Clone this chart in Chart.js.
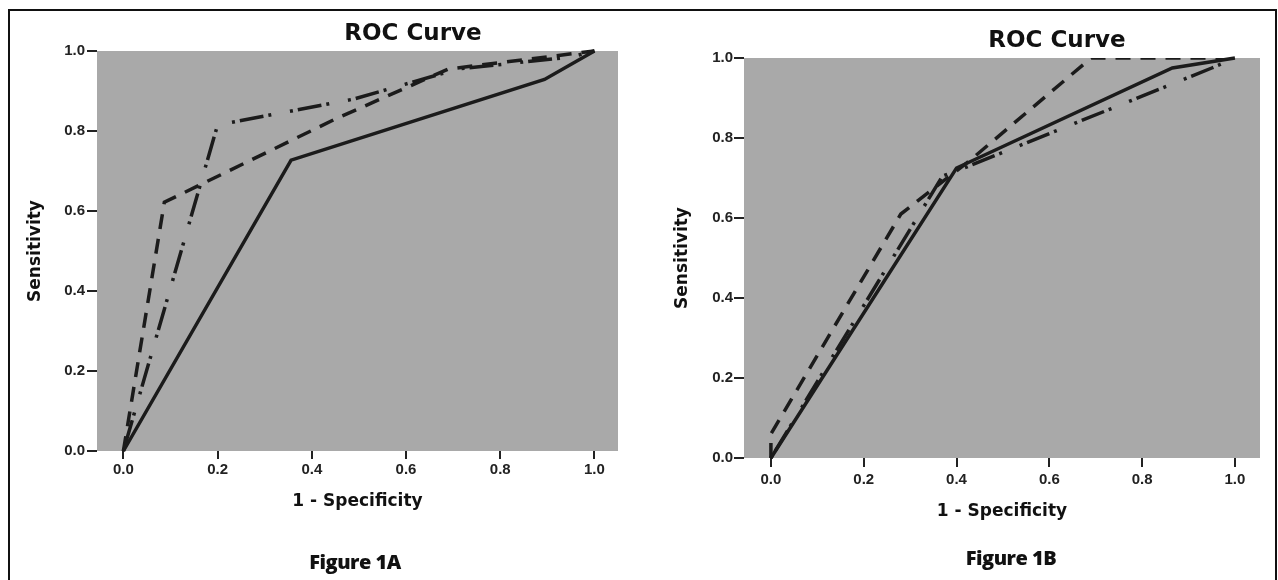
<!DOCTYPE html>
<html>
<head>
<meta charset="utf-8">
<script src="https://cdn.jsdelivr.net/npm/chart.js@4"></script>
<style>
  html, body { margin: 0; padding: 0; background: #fff; }
  body { width: 1278px; height: 580px; overflow: hidden; position: relative; font-family: "DejaVu Sans", sans-serif; }
  #frame { position: absolute; left: 8px; top: 9px; width: 1265px; height: 620px; border: 2px solid #111; border-bottom: none; }
  canvas { position: absolute; top: 0; }
  .t { position: absolute; transform: translate(-50%, -50%); white-space: nowrap; color: #111; font-weight: bold; }
  .roc { font-size: 23px; }
  .fig { font-family: "Open Sans", sans-serif; font-weight: 800; font-size: 20px; letter-spacing: -0.5px; }
</style>
</head>
<body>
<div id="frame"></div>
<canvas id="chartA" width="640" height="580" style="left:0"></canvas>
<canvas id="chartB" width="638" height="580" style="left:640px"></canvas>
<div class="t roc" style="left:413px; top:32px">ROC Curve</div>
<div class="t roc" style="left:1057px; top:39px">ROC Curve</div>
<div class="t fig" style="left:355px; top:561px">Figure 1A</div>
<div class="t fig" style="left:1011px; top:557px">Figure 1B</div>
<script>
const tickValues = [0, 0.2, 0.4, 0.6, 0.8, 1.0];

// Figure 1A
const solidAx = [0, 0.356, 0.894, 1];
const solidAy = [0, 0.727, 0.929, 1];
const dashAx = [0, 0.087, 0.45, 0.69, 1];
const dashAy = [0, 0.622, 0.83, 0.955, 1];
const dotDashAx = [0, 0.2, 0.49, 0.71, 0.95, 1];
const dotDashAy = [0, 0.815, 0.88, 0.955, 0.985, 1];

// Figure 1B
const solidBx = [0, 0.4, 0.865, 1];
const solidBy = [0, 0.725, 0.975, 1];
const dashBx = [0, 0, 0.28, 0.43, 0.69, 1];
const dashBy = [0, 0.06, 0.61, 0.745, 1, 1];
const dotDashBx = [0, 0.37, 0.41, 0.95, 1];
const dotDashBy = [0, 0.705, 0.722, 0.975, 1];

const ink = '#1b1b1b';
const DASH = [15, 10];
const DOTDASH = [3, 5, 24, 5, 3, 19];

const plotBg = {
  id: 'plotBg',
  beforeDraw(chart) {
    const { ctx, chartArea: a } = chart;
    ctx.save();
    ctx.fillStyle = '#a9a9a9';
    ctx.fillRect(a.left, a.top, a.right - a.left, a.bottom - a.top);
    ctx.restore();
  }
};

function pts(xs, ys) {
  return xs.map((x, i) => ({ x: x, y: ys[i] }));
}

function curve(data, dash, clip) {
  return {
    data: data,
    borderColor: ink,
    borderWidth: 3.5,
    borderDash: dash,
    pointRadius: 0,
    tension: 0,
    fill: false,
    clip: clip
  };
}

const tickFont = { family: '"Liberation Sans", Arial, sans-serif', size: 15, weight: 'bold' };

function makeChart(id, sets, o) {
  return new Chart(document.getElementById(id), {
    type: 'line',
    data: { datasets: sets },
    plugins: [plotBg],
    options: {
      responsive: false,
      animation: false,
      layout: { padding: { top: o.top, right: o.right, bottom: o.bottom, left: 0 } },
      plugins: { legend: { display: false }, tooltip: { enabled: false } },
      scales: {
        x: {
          type: 'linear', min: o.xmin, max: o.xmax,
          afterBuildTicks: s => { s.ticks = tickValues.map(v => ({ value: v })); },
          afterFit: s => { s.height = o.xh; },
          ticks: { callback: v => v.toFixed(1), padding: o.xpad, color: '#222', maxRotation: 0, autoSkip: false,
                   font: tickFont },
          grid: { drawOnChartArea: false, tickLength: o.xtl, color: '#222', lineWidth: 2 },
          border: { display: false },
          title: { display: true, text: '1 - Specificity', color: '#111', padding: 0,
                   font: { size: 17, weight: 'bold', lineHeight: 1.2 } }
        },
        y: {
          type: 'linear', min: 0, max: 1,
          afterBuildTicks: s => { s.ticks = tickValues.map(v => ({ value: v })); },
          afterFit: s => { s.width = o.yw; },
          ticks: { callback: v => v.toFixed(1), padding: o.ypad, color: '#222', autoSkip: false,
                   font: tickFont },
          grid: { drawOnChartArea: false, tickLength: 10, color: '#222', lineWidth: 2 },
          border: { display: false },
          title: { display: true, text: 'Sensitivity', color: '#111', padding: { top: o.ytp, bottom: 0 },
                   font: { size: 17, weight: 'bold', lineHeight: 1.2 } }
        }
      }
    }
  });
}

Chart.defaults.font.family = '"DejaVu Sans", sans-serif';

makeChart('chartA', [
  curve(pts(solidAx, solidAy), [], 3),
  curve(pts(dashAx, dashAy), DASH, 3),
  curve(pts(dotDashAx, dotDashAy), DOTDASH, 3)
], { top: 51, right: 22, bottom: 68, xh: 61, yw: 97, xmin: -0.056, xmax: 1.05, xtl: 8, xpad: 2, ypad: 2, ytp: 25 });

makeChart('chartB', [
  curve(pts(solidBx, solidBy), [], 3),
  curve(pts(dashBx, dashBy), DASH, { left: 3, top: 0, right: 3, bottom: 3 }),
  curve(pts(dotDashBx, dotDashBy), DOTDASH, 3)
], { top: 58, right: 18, bottom: 58, xh: 64, yw: 104, xmin: -0.058, xmax: 1.054, xtl: 9, xpad: 4, ypad: 1, ytp: 32 });
</script>
</body>
</html>
